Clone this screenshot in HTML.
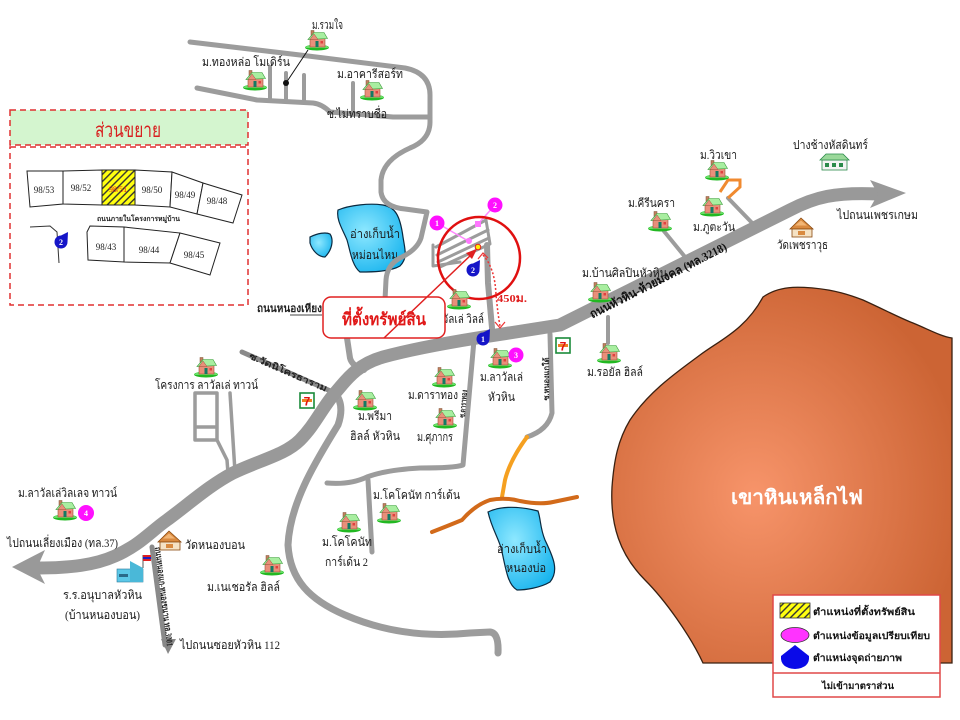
<!DOCTYPE html>
<html><head><meta charset="utf-8">
<style>
html,body{margin:0;padding:0;background:#fff}
svg{display:block}
text{font-family:"Liberation Serif","DejaVu Serif",serif}
.l{font-size:12px;fill:#1a1a1a}
.b{font-weight:bold}
</style></head><body>
<svg width="960" height="720" viewBox="0 0 960 720" xmlns="http://www.w3.org/2000/svg">
<defs>
 <radialGradient id="mt" cx="0.42" cy="0.55" r="0.62">
  <stop offset="0" stop-color="#f7946a"/>
  <stop offset="1" stop-color="#cc6434"/>
 </radialGradient>
 <radialGradient id="lk" cx="0.4" cy="0.4" r="0.7">
  <stop offset="0" stop-color="#8ee8ff"/>
  <stop offset="1" stop-color="#18b4ee"/>
 </radialGradient>
 <pattern id="hatch" width="5" height="5" patternUnits="userSpaceOnUse" patternTransform="rotate(45)">
  <rect width="5" height="5" fill="#ffff10"/>
  <rect width="1.4" height="5" fill="#333"/>
 </pattern>
 <g id="house">
  <ellipse cx="12" cy="17.5" rx="12" ry="3" fill="#22b822"/>
  <path d="M0,18 Q4,13 8,17 Q12,13 16,17 Q20,13 24,18 Z" fill="#66e066"/>
  <rect x="5" y="8" width="15" height="9" fill="#e98f7a" stroke="#a0503a" stroke-width="0.6"/>
  <rect x="6" y="0.5" width="3" height="5" fill="#c08060" stroke="#805030" stroke-width="0.5"/>
  <polygon points="3,9.5 9,2.5 19,2.5 22.5,8.5" fill="#a8eea0" stroke="#3a9a3a" stroke-width="0.6"/>
  <polygon points="5,9.5 9,4 13,9.5" fill="#e98f7a" stroke="#a0503a" stroke-width="0.5"/>
  <rect x="10.5" y="11" width="3" height="6" fill="#137a63"/>
  <rect x="15.5" y="11" width="2.5" height="2.5" fill="#e04040"/>
 </g>
 <g id="bm">
  <polygon points="0,-6.5 7,-10 6.5,0" fill="#1515c8"/>
  <circle cx="0" cy="0" r="6.5" fill="#1515c8"/>
 </g>
 <g id="s711">
  <rect x="0" y="0" width="14" height="15" fill="#fff" stroke="#1a8a3a" stroke-width="1.6"/>
  <rect x="2" y="6" width="10" height="3" fill="#f08020"/>
  <text x="7" y="12.5" font-size="12" font-weight="bold" fill="#e01010" text-anchor="middle" style="font-family:'Liberation Sans',sans-serif">7</text>
 </g>
 <g id="temple">
  <polygon points="1,12 12,1 24,12" fill="#d98a40" stroke="#8a4a10" stroke-width="0.8"/>
  <polygon points="6,8.5 12,3.5 18,8.5" fill="#f2b676"/>
  <rect x="3" y="12" width="20" height="8" fill="#f5e2c4" stroke="#8a4a10" stroke-width="0.8"/>
  <rect x="9" y="14" width="7" height="4" fill="#d98a40"/>
 </g>
</defs>

<rect width="960" height="720" fill="#fff"/>

<!-- Mountain -->
<path d="M703,663 C690,635 665,600 645,580 C620,555 610,525 612,487 C614,460 618,440 630,420 C650,390 680,370 700,355 C720,340 745,330 763,297 C780,285 800,287 813,288 C835,290 850,295 863,300 C885,310 900,318 913,323 C930,330 940,336 952,338 L952,663 Z" fill="url(#mt)" stroke="#3a2010" stroke-width="1.3"/>
<text x="797" y="504" font-size="20" font-weight="bold" fill="#fff" text-anchor="middle" textLength="132" lengthAdjust="spacingAndGlyphs">เขาหินเหล็กไฟ</text>

<!-- Lakes -->
<path d="M338,210 C350,205 370,203 383,205 C395,207 400,215 403,237 C405,250 408,258 400,266 C390,272 370,272 360,272 C352,266 350,250 347,240 C343,230 336,220 338,210 Z" fill="url(#lk)" stroke="#0a2a40" stroke-width="1.2"/>
<path d="M310,237 C318,233 326,232 330,234 C334,240 332,250 325,257 C318,257 312,250 310,243 Z" fill="url(#lk)" stroke="#0a2a40" stroke-width="1.2"/>
<text x="375" y="238" class="l" text-anchor="middle" textLength="50" lengthAdjust="spacingAndGlyphs">อ่างเก็บน้ำ</text>
<text x="375" y="259" class="l" text-anchor="middle" textLength="46" lengthAdjust="spacingAndGlyphs">หม่อนไหม</text>

<path d="M488,512 C498,507 515,505 538,511 C541,520 540,528 545,540 C552,555 560,570 550,582 C540,588 525,590 517,590 C508,585 506,570 502,552 C500,540 492,530 488,512 Z" fill="url(#lk)" stroke="#0a2a40" stroke-width="1.2"/>
<text x="522" y="553" class="l" text-anchor="middle" textLength="50" lengthAdjust="spacingAndGlyphs">อ่างเก็บน้ำ</text>
<text x="526" y="572" class="l" text-anchor="middle" textLength="40" lengthAdjust="spacingAndGlyphs">หนองบ่อ</text>

<!-- Roads -->
<g fill="none" stroke="#9c9c9c" stroke-linecap="round" stroke-linejoin="round">
 <path d="M190,42 L300,55 L405,68 Q430,73 430,95 L430,122 Q430,140 410,148 Q383,160 381,180 L381,192 Q383,207 405,209 L427,212 L421,238 Q417,250 400,258 Q387,265 386,280 L385,300 Q383,322 350,336" stroke-width="5"/>
 <path d="M197,88 L257,100 L313,103 Q322,104 330,112 L393,117 L430,117" stroke-width="5"/>
 <path d="M270,67 L270,100 M286,73 L286,101 M304,75 L304,102 M353,83 L353,115" stroke-width="4"/>
 <path d="M347,338 L350,358 Q352,366 364,370" stroke-width="6"/>
 <path d="M335,393 Q345,405 338,425 C320,455 290,500 288,545 C290,580 310,600 345,615 C380,630 420,638 470,633 L490,632 Q499,633 498,653" stroke-width="7"/>
 <path d="M474,340 L463,465 Q455,468 420,468 Q385,470 367,477 Q350,485 327,483" stroke-width="5"/>
 <path d="M368,480 L372,552" stroke-width="5"/>
 <path d="M550,334 L552,413 Q548,430 527,437" stroke-width="5"/>
 <path d="M487,245 L488,283 L492,328" stroke-width="6"/>
 <path d="M217,440 L195,440 L195,393 L217,393 L217,440 L227,460 L228,473 M195,427 L217,427 M230,393 L235,472" stroke-width="3.5"/>
 <path d="M663,230 L690,263 M728,198 L757,228 M608,317 L608,343" stroke-width="4"/>
 <path d="M242,352 L335,393" stroke-width="5" stroke="#8a8a8a"/>
 <path d="M152,547 L165,645" stroke-width="5" stroke="#8a8a8a"/>
 <path d="M38,568 C70,568 95,565 115,556 C140,545 150,532 167,520 C190,503 210,485 233,473 C260,460 285,455 300,440 C315,425 322,408 335,393 C345,382 355,365 383,357 C405,351 440,344 477,338 L560,325 L790,210 C815,197 835,192 878,194" stroke-width="13" stroke="#999"/>
</g>
<polygon points="12,567 45,550 37,568 45,584" fill="#999"/>
<polygon points="906,193 870,180 878,194 870,208" fill="#999"/>
<polygon points="161,639 176,639 168,654" fill="#888"/>

<path d="M527,437 Q510,460 505,480 L502,497" fill="none" stroke="#f5a020" stroke-width="4" stroke-linecap="round"/>
<path d="M432,532 Q450,525 462,520 Q475,505 490,500 Q505,497 520,501 Q540,505 553,502 L577,497" fill="none" stroke="#d26a1a" stroke-width="4" stroke-linecap="round"/>
<polyline points="720,192 728,180 740,180 740,187 728,198" fill="none" stroke="#f08a30" stroke-width="3"/>

<!-- road labels -->
<text transform="translate(660,284) rotate(-27)" font-size="12" font-weight="bold" fill="#111" text-anchor="middle" textLength="152" lengthAdjust="spacingAndGlyphs">ถนนหัวหิน-ห้วยมงคล (ทล.3218)</text>
<text transform="translate(287,375) rotate(23.5)" font-size="9" font-weight="bold" fill="#222" text-anchor="middle" textLength="84" lengthAdjust="spacingAndGlyphs">ซ.วัดนิโครธาราม</text>
<text transform="translate(161,597) rotate(83)" font-size="9" font-weight="bold" fill="#222" text-anchor="middle" textLength="100" lengthAdjust="spacingAndGlyphs">ถนนหนองแก-หนองขนาน ทล.3001</text>
<text transform="translate(466,404) rotate(-85)" font-size="8" font-weight="bold" fill="#222" text-anchor="middle" textLength="28" lengthAdjust="spacingAndGlyphs">ซ.ดาราทอง</text>
<text transform="translate(549,379) rotate(-90)" font-size="8" font-weight="bold" fill="#222" text-anchor="middle" textLength="43" lengthAdjust="spacingAndGlyphs">ซ.หนองแกใต้</text>
<text x="257" y="312" font-size="11" font-weight="bold" fill="#222" textLength="65" lengthAdjust="spacingAndGlyphs">ถนนหนองเหียง</text>
<line x1="290" y1="315" x2="322" y2="315" stroke="#444" stroke-width="1"/>

<!-- subdivision inside circle -->
<g fill="none" stroke="#9c9c9c" stroke-width="3" stroke-linecap="round" stroke-linejoin="round">
 <path d="M433,245 L433,266 L460,262"/>
 <path d="M436,247 L486,220 L490,244 L440,267"/>
 <path d="M437,255 L488,230"/>
 <path d="M438,262 L489,238"/>
</g>
<line x1="437" y1="223" x2="470" y2="242" stroke="#ff88ff" stroke-width="1.5"/>
<circle cx="469" cy="241" r="3" fill="#ff77ff"/>
<line x1="495" y1="205" x2="478" y2="224" stroke="#ff88ff" stroke-width="1.5"/>
<rect x="475" y="221" width="6" height="6" fill="#ff77ff"/>
<circle cx="479" cy="258" r="41" fill="none" stroke="#e01010" stroke-width="2.5"/>
<circle cx="478" cy="247" r="2.8" fill="#ffee00" stroke="#e02020" stroke-width="1"/>

<path d="M483,255 Q495,268 496,295 Q498,315 500,326" fill="none" stroke="#e33" stroke-width="1.5" stroke-dasharray="2,2"/>
<polyline points="478,259 483,253 488,258" fill="none" stroke="#e33" stroke-width="1.2"/>
<polyline points="495,322 500,328 505,322" fill="none" stroke="#e33" stroke-width="1.2"/>
<text x="497" y="302" font-size="11" font-weight="bold" fill="#e02020" textLength="30" lengthAdjust="spacingAndGlyphs">450ม.</text>

<!-- houses -->
<use href="#house" x="305" y="30"/>
<use href="#house" x="243" y="70"/>
<use href="#house" x="360" y="80"/>
<use href="#house" x="447" y="289"/>
<use href="#house" x="194" y="357"/>
<use href="#house" x="53" y="500"/>
<use href="#house" x="353" y="390"/>
<use href="#house" x="432" y="367"/>
<use href="#house" x="433" y="408"/>
<use href="#house" x="488" y="348"/>
<use href="#house" x="377" y="503"/>
<use href="#house" x="337" y="512"/>
<use href="#house" x="260" y="555"/>
<use href="#house" x="705" y="160"/>
<use href="#house" x="648" y="211"/>
<use href="#house" x="700" y="196"/>
<use href="#house" x="588" y="282"/>
<use href="#house" x="597" y="343"/>

<line x1="308" y1="50" x2="286" y2="83" stroke="#111" stroke-width="1"/>
<circle cx="286" cy="83" r="3" fill="#111"/>

<!-- icons -->
<use href="#s711" x="300" y="393"/>
<use href="#s711" x="556" y="338"/>
<use href="#temple" x="157" y="530"/>
<use href="#temple" x="789" y="217"/>
<g>
 <rect x="117" y="569" width="26" height="13" fill="#5cc8e8" stroke="#2a7a9a" stroke-width="0.6"/>
 <polygon points="130,561 143,568 143,582 130,582" fill="#4ab8d8"/>
 <rect x="119" y="574" width="9" height="3" fill="#2a6a8a"/>
 <line x1="143" y1="555" x2="143" y2="568" stroke="#555" stroke-width="1"/>
 <rect x="143" y="555" width="8" height="2" fill="#e02020"/>
 <rect x="143" y="557" width="8" height="2" fill="#2020c0"/>
 <rect x="143" y="559" width="8" height="2" fill="#e02020"/>
</g>
<g>
 <rect x="822" y="160" width="25" height="10" fill="#f4f4f4" stroke="#2a8a4a" stroke-width="0.8"/>
 <polygon points="820,160 826,154 843,154 849,160" fill="#9ad89a" stroke="#2a8a4a" stroke-width="0.8"/>
 <rect x="825" y="163" width="4" height="4" fill="#2a8a4a"/>
 <rect x="832" y="163" width="4" height="4" fill="#2a8a4a"/>
 <rect x="839" y="163" width="4" height="4" fill="#2a8a4a"/>
</g>

<!-- labels -->
<g class="l">
 <text x="312" y="29" textLength="31" lengthAdjust="spacingAndGlyphs">ม.รวมใจ</text>
 <text x="202" y="66" textLength="88" lengthAdjust="spacingAndGlyphs">ม.ทองหล่อ โมเดิร์น</text>
 <text x="337" y="78" textLength="66" lengthAdjust="spacingAndGlyphs">ม.อาคารีสอร์ท</text>
 <text x="327" y="118" textLength="60" lengthAdjust="spacingAndGlyphs">ซ.ไม่ทราบชื่อ</text>
 <text x="484" y="323" text-anchor="end" textLength="62" lengthAdjust="spacingAndGlyphs">ม.ลาวัลเล่ วิลล์</text>
 <text x="155" y="389" textLength="103" lengthAdjust="spacingAndGlyphs">โครงการ ลาวัลเล่ ทาวน์</text>
 <text x="18" y="497" textLength="99" lengthAdjust="spacingAndGlyphs">ม.ลาวัลเล่วิลเลจ ทาวน์</text>
 <text x="7" y="547" textLength="111" lengthAdjust="spacingAndGlyphs">ไปถนนเลี่ยงเมือง (ทล.37)</text>
 <text x="185" y="549" textLength="60" lengthAdjust="spacingAndGlyphs">วัดหนองบอน</text>
 <text x="63" y="599" textLength="79" lengthAdjust="spacingAndGlyphs">ร.ร.อนุบาลหัวหิน</text>
 <text x="65" y="619" textLength="75" lengthAdjust="spacingAndGlyphs">(บ้านหนองบอน)</text>
 <text x="207" y="591" textLength="73" lengthAdjust="spacingAndGlyphs">ม.เนเชอรัล ฮิลล์</text>
 <text x="180" y="649" textLength="100" lengthAdjust="spacingAndGlyphs">ไปถนนซอยหัวหิน 112</text>
 <text x="358" y="420" textLength="34" lengthAdjust="spacingAndGlyphs">ม.พรีมา</text>
 <text x="350" y="440" textLength="50" lengthAdjust="spacingAndGlyphs">ฮิลล์ หัวหิน</text>
 <text x="408" y="399" textLength="50" lengthAdjust="spacingAndGlyphs">ม.ดาราทอง</text>
 <text x="417" y="441" textLength="36" lengthAdjust="spacingAndGlyphs">ม.ศุภากร</text>
 <text x="480" y="381" textLength="43" lengthAdjust="spacingAndGlyphs">ม.ลาวัลเล่</text>
 <text x="488" y="401" textLength="27" lengthAdjust="spacingAndGlyphs">หัวหิน</text>
 <text x="373" y="499" textLength="87" lengthAdjust="spacingAndGlyphs">ม.โคโคนัท การ์เด้น</text>
 <text x="322" y="546" textLength="50" lengthAdjust="spacingAndGlyphs">ม.โคโคนัท</text>
 <text x="325" y="566" textLength="43" lengthAdjust="spacingAndGlyphs">การ์เด้น 2</text>
 <text x="700" y="159" textLength="37" lengthAdjust="spacingAndGlyphs">ม.วิวเขา</text>
 <text x="793" y="149" textLength="75" lengthAdjust="spacingAndGlyphs">ปางช้างหัสดินทร์</text>
 <text x="628" y="207" textLength="47" lengthAdjust="spacingAndGlyphs">ม.คีรีนครา</text>
 <text x="693" y="231" textLength="42" lengthAdjust="spacingAndGlyphs">ม.ภูตะวัน</text>
 <text x="777" y="249" textLength="51" lengthAdjust="spacingAndGlyphs">วัดเพชราวุธ</text>
 <text x="837" y="219" textLength="81" lengthAdjust="spacingAndGlyphs">ไปถนนเพชรเกษม</text>
 <text x="582" y="277" textLength="85" lengthAdjust="spacingAndGlyphs">ม.บ้านศิลปินหัวหิน</text>
 <text x="587" y="376" textLength="56" lengthAdjust="spacingAndGlyphs">ม.รอยัล ฮิลล์</text>
</g>

<!-- callout -->
<rect x="323" y="297" width="122" height="41" rx="8" fill="#fff" stroke="#e02020" stroke-width="1.5"/>
<text x="384" y="325" font-size="17" font-weight="bold" fill="#e01818" text-anchor="middle" textLength="84" lengthAdjust="spacingAndGlyphs">ที่ตั้งทรัพย์สิน</text>
<line x1="384" y1="338" x2="472" y2="254" stroke="#e02020" stroke-width="1.5"/>
<polygon points="477,249 466,253 472,259" fill="#e02020"/>

<!-- inset -->
<rect x="10" y="110" width="238" height="35" fill="#d4f5cf" stroke="#e03030" stroke-width="1.5" stroke-dasharray="6,4"/>
<rect x="10" y="147" width="238" height="158" fill="#fff" stroke="#e03030" stroke-width="1.5" stroke-dasharray="6,4"/>
<text x="128" y="137" font-size="20" fill="#d82020" text-anchor="middle" textLength="66" lengthAdjust="spacingAndGlyphs">ส่วนขยาย</text>
<g stroke="#222" stroke-width="1" fill="#fff">
 <polygon points="27,171 63,171 63,204 30,207"/>
 <polygon points="63,171 102,170 102,205 63,204"/>
 <polygon points="102,170 135,170 135,205 102,205" fill="url(#hatch)"/>
 <polygon points="135,170 172,172 170,207 135,205"/>
 <polygon points="172,172 203,183 197,214 170,207"/>
 <polygon points="203,183 242,195 233,223 197,214"/>
 <polygon points="90,226 124,227 124,262 88,260 87,232"/>
 <polygon points="124,227 180,233 170,263 124,262"/>
 <polygon points="180,233 220,243 210,275 170,263"/>
</g>
<polyline points="30,227 50,226 57,232 59,263" fill="none" stroke="#333" stroke-width="1"/>
<g font-size="9" fill="#222" text-anchor="middle">
 <text x="44" y="193">98/53</text>
 <text x="81" y="191">98/52</text>
 <text x="118" y="192" fill="#e02020" font-size="8">98/51</text>
 <text x="152" y="193">98/50</text>
 <text x="185" y="198">98/49</text>
 <text x="217" y="204">98/48</text>
 <text x="106" y="250">98/43</text>
 <text x="149" y="253">98/44</text>
 <text x="194" y="258">98/45</text>
</g>
<text x="97" y="221" font-size="7" font-weight="bold" fill="#222" textLength="83" lengthAdjust="spacingAndGlyphs">ถนนภายในโครงการหมู่บ้าน</text>

<!-- pink markers -->
<g font-size="8" font-weight="bold" fill="#fff" text-anchor="middle" style="font-family:'Liberation Sans',sans-serif">
 <circle cx="437" cy="223" r="7.5" fill="#ff10ff"/><text x="437" y="226">1</text>
 <circle cx="495" cy="205" r="7.5" fill="#ff10ff"/><text x="495" y="208">2</text>
 <circle cx="516" cy="355" r="7.5" fill="#ff10ff"/><text x="516" y="358">3</text>
 <circle cx="86" cy="513" r="8" fill="#ff10ff"/><text x="86" y="516">4</text>
</g>
<!-- blue markers -->
<g font-size="8" font-weight="bold" fill="#fff" text-anchor="middle" style="font-family:'Liberation Sans',sans-serif">
 <use href="#bm" x="473" y="270"/><text x="473" y="273">2</text>
 <use href="#bm" x="483" y="339"/><text x="483" y="342">1</text>
 <use href="#bm" x="61" y="242"/><text x="61" y="245">2</text>
</g>

<!-- legend -->
<rect x="773" y="595" width="167" height="102" fill="#fff" stroke="#e04848" stroke-width="1.5"/>
<line x1="773" y1="673" x2="940" y2="673" stroke="#e04848" stroke-width="1.5"/>
<rect x="780" y="603" width="30" height="15" fill="url(#hatch)" stroke="#333" stroke-width="0.8"/>
<ellipse cx="795" cy="635" rx="14" ry="7.5" fill="#ff33ff" stroke="#333" stroke-width="0.8"/>
<path d="M795,645 L809,656 Q810,668 795,669 Q780,668 781,656 Z" fill="#0a0ae8"/>
<g font-size="9.5" font-weight="bold" fill="#111">
 <text x="813" y="615" textLength="102" lengthAdjust="spacingAndGlyphs">ตำแหน่งที่ตั้งทรัพย์สิน</text>
 <text x="813" y="639" textLength="117" lengthAdjust="spacingAndGlyphs">ตำแหน่งข้อมูลเปรียบเทียบ</text>
 <text x="813" y="661" textLength="89" lengthAdjust="spacingAndGlyphs">ตำแหน่งจุดถ่ายภาพ</text>
 <text x="858" y="689" text-anchor="middle" textLength="72" lengthAdjust="spacingAndGlyphs">ไม่เข้ามาตราส่วน</text>
</g>
</svg>
</body></html>
